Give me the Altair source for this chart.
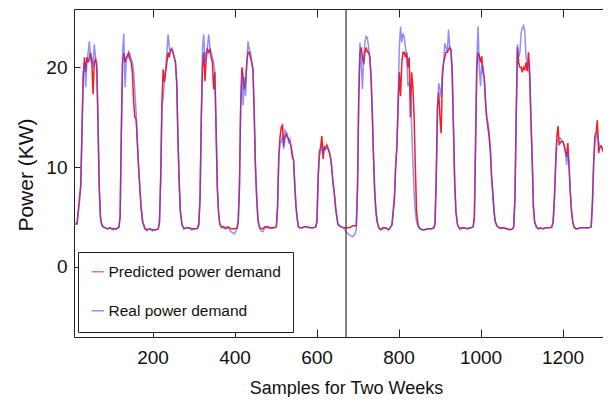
import altair as alt
import pandas as pd

# ---------------- data ----------------
SAMPLES_PER_DAY = 96
# sample offsets inside each day at which values were read
OFFSETS = [0, 8, 16, 22, 25, 28, 31, 34, 37, 40, 43, 46, 49, 52, 55, 58, 61, 64, 67, 70, 73, 76, 80, 85, 90]

REAL_DAYS = [
    [4.2, 4.2, 4.3, 6.5, 8.5, 14.0, 19.5, 20.5, 18.0, 20.5, 21.5, 22.6, 20.5, 21.0, 20.0, 22.3, 21.0, 20.5, 15.0, 8.0, 5.0, 4.3, 4.0, 3.9, 3.8],
    [3.9, 3.7, 3.8, 3.9, 5.0, 14.0, 21.5, 23.4, 18.0, 20.5, 21.2, 21.0, 21.3, 20.8, 20.5, 19.5, 17.5, 15.5, 12.5, 10.0, 8.0, 6.0, 4.5, 3.8, 3.6],
    [3.8, 3.6, 3.7, 3.8, 4.5, 9.0, 16.0, 17.0, 18.5, 20.0, 21.5, 23.3, 22.0, 21.5, 22.0, 21.5, 21.0, 20.5, 18.5, 13.0, 8.5, 5.5, 4.2, 3.8, 3.9],
    [3.9, 3.7, 3.8, 3.8, 4.2, 7.0, 15.0, 22.0, 23.3, 20.5, 21.5, 22.0, 23.3, 22.0, 21.5, 21.0, 20.5, 19.5, 14.0, 8.0, 5.5, 4.2, 3.9, 3.9, 3.8],
    [3.9, 3.5, 3.3, 3.8, 4.5, 8.0, 16.0, 19.5, 16.2, 19.0, 17.1, 20.5, 22.6, 21.8, 21.5, 20.5, 19.8, 15.5, 10.4, 7.0, 4.8, 4.0, 3.6, 3.5, 3.9],
    [3.9, 3.8, 3.9, 4.0, 6.0, 11.0, 12.5, 12.5, 13.2, 11.8, 13.7, 13.5, 13.3, 12.5, 12.8, 12.0, 11.5, 10.7, 8.5, 6.0, 4.8, 4.0, 3.9, 3.9, 4.0],
    [4.0, 3.9, 3.9, 4.0, 4.5, 9.0, 11.1, 11.5, 12.0, 11.5, 12.0, 11.9, 12.0, 11.8, 11.5, 11.0, 10.0, 8.5, 7.5, 6.5, 5.0, 4.3, 4.1, 4.0, 3.9],
    [3.5, 3.2, 3.0, 3.3, 3.8, 8.0, 17.0, 22.5, 20.5, 17.8, 21.0, 22.5, 23.1, 23.0, 22.0, 21.0, 19.0, 15.5, 11.0, 7.5, 5.5, 4.5, 3.9, 3.7, 3.8],
    [3.9, 3.7, 4.2, 6.5, 10.2, 12.0, 17.0, 22.0, 24.1, 22.5, 23.4, 23.0, 22.0, 21.0, 18.1, 18.5, 17.5, 14.0, 10.5, 7.5, 5.5, 4.5, 4.0, 3.8, 3.7],
    [3.7, 3.8, 3.8, 3.9, 4.3, 9.0, 16.0, 18.4, 17.8, 17.0, 19.8, 20.5, 22.4, 22.0, 21.5, 23.8, 22.0, 21.5, 19.0, 14.0, 8.5, 5.5, 4.2, 3.8, 3.8],
    [3.9, 3.8, 3.9, 4.0, 5.0, 13.0, 21.0, 24.1, 20.0, 18.1, 20.5, 20.0, 19.0, 17.0, 15.0, 14.5, 13.5, 12.0, 9.0, 7.0, 5.5, 4.5, 4.1, 3.9, 3.8],
    [3.9, 3.8, 3.7, 3.8, 4.0, 7.0, 15.0, 22.3, 21.0, 21.5, 23.4, 24.0, 24.2, 23.5, 21.0, 20.5, 20.0, 19.0, 14.7, 10.4, 6.0, 4.5, 4.0, 3.8, 3.9],
    [3.8, 3.9, 3.9, 4.0, 4.5, 6.6, 10.0, 12.4, 12.8, 12.9, 12.9, 12.6, 12.6, 12.0, 11.8, 10.2, 11.5, 10.0, 7.5, 5.5, 4.5, 4.0, 3.8, 3.8, 3.9],
    [3.9, 3.9, 3.9, 4.0, 6.5, 10.5, 12.5, 13.0, 13.5, 12.5, 12.1, 12.1, 12.0, 11.5, 11.2, 10.8, 10.5, 9.5, 8.5, 7.5, 6.0, 4.8, 4.2, 4.0, 3.9],
]

PRED_DAYS = [
    [4.2, 4.3, 4.3, 7.0, 8.0, 13.5, 19.0, 21.0, 19.5, 21.0, 20.5, 21.0, 21.5, 20.5, 17.3, 20.5, 20.8, 20.0, 14.5, 8.0, 5.0, 4.2, 4.0, 3.9, 3.8],
    [3.9, 3.8, 3.8, 4.0, 5.0, 13.5, 20.5, 21.4, 20.5, 21.0, 21.2, 21.5, 20.8, 20.5, 19.5, 16.5, 15.0, 14.8, 12.5, 10.0, 8.0, 6.0, 4.5, 3.9, 3.7],
    [3.8, 3.7, 3.7, 3.8, 4.5, 9.0, 16.5, 19.8, 18.5, 19.5, 20.5, 21.5, 21.0, 21.8, 21.8, 21.5, 21.0, 20.5, 18.5, 13.0, 8.5, 5.5, 4.2, 3.8, 3.9],
    [3.9, 3.8, 3.8, 3.9, 4.3, 7.0, 15.0, 20.0, 21.5, 18.6, 21.0, 21.8, 21.5, 21.8, 21.0, 20.5, 17.8, 19.5, 14.0, 8.0, 5.5, 4.3, 4.0, 4.0, 3.9],
    [4.0, 3.8, 3.8, 3.9, 4.5, 8.0, 16.0, 20.0, 19.0, 17.8, 18.5, 20.5, 21.5, 21.5, 21.0, 20.5, 19.8, 15.5, 10.0, 7.0, 4.8, 4.1, 3.8, 3.8, 4.0],
    [4.0, 3.9, 3.9, 4.0, 6.0, 11.0, 13.0, 14.0, 14.2, 12.1, 13.0, 13.3, 13.0, 12.8, 12.5, 12.0, 11.0, 10.7, 8.0, 6.0, 4.8, 4.0, 3.9, 3.9, 4.0],
    [4.0, 3.9, 3.9, 4.0, 4.5, 9.0, 11.5, 12.0, 13.1, 10.8, 12.0, 11.8, 12.2, 11.9, 11.5, 11.0, 10.0, 8.5, 7.5, 6.0, 5.2, 4.3, 4.1, 4.0, 3.9],
    [3.9, 3.9, 4.1, 4.1, 4.1, 8.0, 17.0, 21.5, 22.0, 21.0, 20.3, 21.5, 22.0, 21.5, 21.5, 21.0, 19.0, 15.5, 11.0, 7.5, 5.5, 4.5, 3.9, 3.7, 3.9],
    [3.9, 3.7, 4.2, 7.0, 10.0, 12.0, 16.0, 19.5, 17.1, 20.5, 21.5, 21.5, 21.0, 21.5, 20.0, 21.0, 15.0, 19.5, 18.0, 15.0, 10.0, 5.5, 4.1, 3.8, 3.7],
    [3.7, 3.8, 3.8, 3.9, 4.3, 9.0, 16.0, 17.5, 15.0, 13.4, 19.0, 20.5, 21.0, 21.5, 21.5, 21.8, 22.0, 21.8, 19.5, 14.0, 8.5, 5.5, 4.2, 3.8, 3.9],
    [3.9, 3.8, 3.9, 4.0, 5.0, 12.5, 20.0, 21.5, 21.2, 20.5, 21.1, 19.5, 19.0, 16.5, 15.0, 14.0, 13.0, 11.5, 9.0, 7.5, 5.5, 4.5, 4.1, 3.9, 3.9],
    [3.9, 3.8, 3.7, 3.8, 4.0, 7.0, 15.0, 22.0, 20.5, 20.0, 20.0, 19.5, 20.0, 19.8, 20.5, 19.6, 21.5, 19.5, 14.7, 11.0, 6.0, 4.5, 4.0, 3.8, 3.9],
    [3.8, 3.9, 3.9, 4.0, 4.5, 6.6, 10.0, 13.0, 14.1, 12.2, 12.5, 12.6, 12.5, 12.2, 11.5, 11.0, 12.4, 10.0, 7.5, 5.5, 4.5, 4.0, 3.8, 3.8, 3.9],
    [3.9, 3.9, 3.9, 4.0, 6.5, 10.5, 13.1, 13.5, 14.7, 11.4, 12.0, 12.1, 11.8, 11.5, 11.2, 10.8, 10.5, 9.5, 8.5, 7.5, 6.0, 4.8, 4.2, 4.0, 3.9],
]

SERIES = ["Predicted power demand", "Real power demand"]
COLORS = ["#ff1a1a", "#4b4bff"]
X_TICKS = [200, 400, 600, 800, 1000, 1200]
Y_TICKS = [0, 10, 20]
X_DOMAIN = [8.5, 1298.7]
Y_DOMAIN = [-7.05, 25.85]
WEEK_SPLIT = [672]
X_TITLE = "Samples for Two Weeks"
Y_TITLE = "Power (KW)"

# ---------------- tables ----------------
def build(days, name):
    rows = []
    for d, vals in enumerate(days):
        for o, v in zip(OFFSETS, vals):
            rows.append({"sample": d * SAMPLES_PER_DAY + o, "power": v, "series": name})
    return pd.DataFrame(rows)

pred_df = build(PRED_DAYS, SERIES[0])
real_df = build(REAL_DAYS, SERIES[1])
split_df = pd.DataFrame({"sample": WEEK_SPLIT})

FONT = "Liberation Sans"
INK = "#222222"
TXT = "#111111"

xs = alt.Scale(domain=X_DOMAIN, nice=False, zero=False)
ys = alt.Scale(domain=Y_DOMAIN, nice=False, zero=False)

legend = alt.Legend(
    orient="none", legendX=4, legendY=243, padding=12,
    fillColor="white", strokeColor=INK,
    symbolType="stroke", symbolSize=150, symbolStrokeWidth=1.5,
    labelFont=FONT, labelFontSize=15.5, labelColor=TXT, labelLimit=400,
    labelOffset=3, rowPadding=22, title=None,
)
color = alt.Color("series:N", scale=alt.Scale(domain=SERIES, range=COLORS), legend=legend)

red = alt.Chart(pred_df).mark_line(strokeWidth=1.5, clip=True).encode(
    x=alt.X("sample:Q", scale=xs, axis=alt.Axis(
        orient="bottom", values=X_TICKS, format="d", offset=-8, tickSize=8, tickColor=INK,
        domain=False, grid=False, labelPadding=11, labelFont=FONT, labelFontSize=19,
        labelColor=TXT, title=X_TITLE, titleFont=FONT, titleFontSize=18,
        titleFontWeight="normal", titleColor=TXT, titleX=272, titleY=50,
        titleBaseline="top", titleAlign="center")),
    y=alt.Y("power:Q", scale=ys, axis=alt.Axis(
        orient="left", values=Y_TICKS, format="d", offset=-6, tickSize=6, tickColor=INK,
        domain=False, grid=False, labelPadding=7, labelFont=FONT, labelFontSize=19,
        labelColor=TXT, title=Y_TITLE, titleFont=FONT, titleFontSize=21,
        titleFontWeight="normal", titleColor=TXT, titleAngle=270,
        titleX=-54, titleY=165.5, titleBaseline="middle", titleAlign="center")),
    color=color,
)

blue = alt.Chart(real_df).mark_line(strokeWidth=1.5, opacity=0.62, clip=True).encode(
    x=alt.X("sample:Q", scale=xs, axis=alt.Axis(
        orient="bottom", offset=0, domain=True, domainColor=INK, domainWidth=1,
        ticks=False, labels=False, grid=False, title="")),
    y=alt.Y("power:Q", scale=ys, axis=alt.Axis(
        orient="left", offset=0, domain=True, domainColor=INK, domainWidth=1,
        ticks=False, labels=False, values=[Y_DOMAIN[1]], grid=True,
        gridColor=INK, gridOpacity=1, gridWidth=1, title="")),
    color=color,
)

split = alt.Chart(split_df).mark_rule(color="#333333", strokeWidth=1.2).encode(
    x=alt.X("sample:Q", scale=xs, axis=alt.Axis(
        orient="top", values=X_TICKS, offset=-8, tickSize=8, tickColor=INK,
        domain=False, labels=False, grid=False, title="")),
)

chart = (
    alt.layer(red, blue, split)
    .resolve_axis(x="independent", y="independent")
    .properties(
        width=529, height=328,
        autosize=alt.AutoSizeParams(type="none"),
        padding={"left": 66, "top": 1, "right": 0, "bottom": 60},
        background="white",
    )
    .configure_view(stroke="transparent")
)

chart.save("out.html", embed_options={"renderer": "svg", "actions": False})
